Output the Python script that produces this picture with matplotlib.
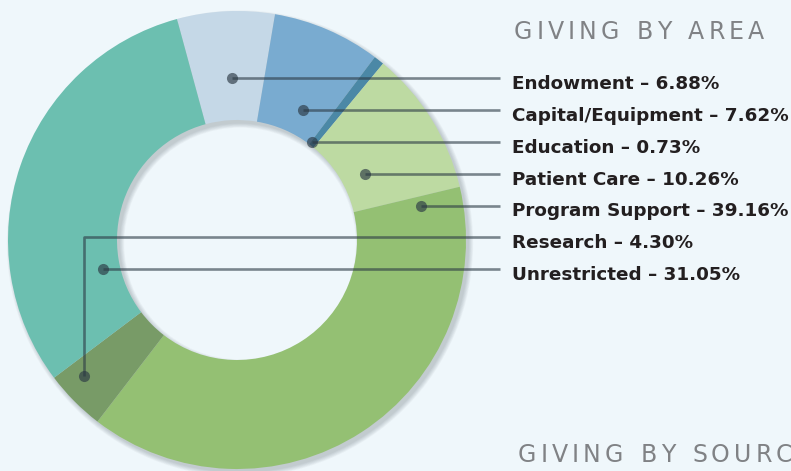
'''
Donut chart of giving by area, with labelled leader lines.
'''

import matplotlib.pyplot as plt
from matplotlib.patches import Wedge

# Data
areas = ["Endowment", "Capital/Equipment", "Education", "Patient Care",
         "Program Support", "Research", "Unrestricted"]
shares = [6.88, 7.62, 0.73, 10.26, 39.16, 4.30, 31.05]
colors = ["#c5d8e7", "#79abd0", "#4b88a6", "#bddaa2", "#94c073", "#789b67", "#6cbfb0"]
title_top = "GIVING BY AREA"
title_bottom = "GIVING BY SOURCE"

# Layout (pixels, origin at donut centre, y up)
W, H = 791, 471
cx, cy = 237, 240            # donut centre in image pixels (y down)
R_OUT, R_IN = 229, 120
row0, row_step = 161.7, 31.8  # first leader line y and spacing
dot_x = [-5, 66, 75, 128, 184, -153, -134]
dot_y = [None, None, None, None, None, -136, None]   # None -> on the row
line_end, text_x = 263, 275
title_width = 250            # ink width of the top heading

bg = "#eff7fb"
fig = plt.figure(figsize=(W / 100, H / 100), dpi=100, facecolor=bg)
ax = fig.add_axes([0, 0, 1, 1])
ax.set_facecolor(bg)

# soft drop shadow under the ring
for k in range(7):
    s = k * 0.7
    ax.add_patch(Wedge((3, -3.5), R_OUT + s, 0, 360, width=R_OUT - R_IN + 2 * s,
                       facecolor="#1c2a33", edgecolor="none", alpha=0.03, zorder=1))

ax.pie(shares, colors=colors, radius=R_OUT, center=(0, 0), startangle=105.2,
       counterclock=False, wedgeprops=dict(width=R_OUT - R_IN, linewidth=0, zorder=2))

ax.set_xlim(-cx, W - cx)
ax.set_ylim(cy - H, cy)
ax.set_aspect("auto")
ax.axis("off")

line_kw = dict(color="#2b3944", alpha=0.6, lw=1.9, solid_capstyle="butt", zorder=5)
for i, name in enumerate(areas):
    y = row0 - i * row_step
    x0 = dot_x[i]
    if dot_y[i] is None:
        ax.plot([x0, line_end], [y, y], **line_kw)
        ax.plot(x0, y, "o", ms=8, color="#2b3944", alpha=0.65, mec="none", zorder=6)
    else:
        ax.plot([x0, x0, line_end], [dot_y[i], y, y], **line_kw)
        ax.plot(x0, dot_y[i], "o", ms=8, color="#2b3944", alpha=0.65, mec="none", zorder=6)
    ax.text(text_x, y - 11, f"{name} \u2013 {shares[i]:.2f}%", family="DejaVu Sans",
            fontweight="bold", fontsize=13.2, color="#231f20", va="baseline", ha="left")

fig.canvas.draw()
renderer = fig.canvas.get_renderer()


def char_widths(s, **kw):
    # width of each letter in pixels (== data units here)
    out = []
    for ch in s:
        if ch == " ":
            out.append(None)
            continue
        t = ax.text(0, 0, ch, **kw)
        out.append(t.get_window_extent(renderer=renderer).width)
        t.remove()
    return out


def spaced_text(x, y, s, track, space, **kw):
    ws = char_widths(s, **kw)
    for ch, w in zip(s, ws):
        if w is None:
            x += space
            continue
        ax.text(x, y, ch, va="baseline", ha="left", **kw)
        x += w + track


tkw = dict(family="DejaVu Sans", fontsize=17, color="#808285")
space_w = 13
ws = char_widths(title_top, **tkw)
natural = sum(w for w in ws if w is not None) + space_w * title_top.count(" ")
n_gaps = len(title_top.replace(" ", "")) - 1
track = (title_width - natural) / n_gaps
spaced_text(514 - cx, cy - 39, title_top, track, space_w, **tkw)
spaced_text(518 - cx, cy - 462.3, title_bottom, track, space_w, **tkw)

fig.savefig("out.png", dpi=100, facecolor=bg)
